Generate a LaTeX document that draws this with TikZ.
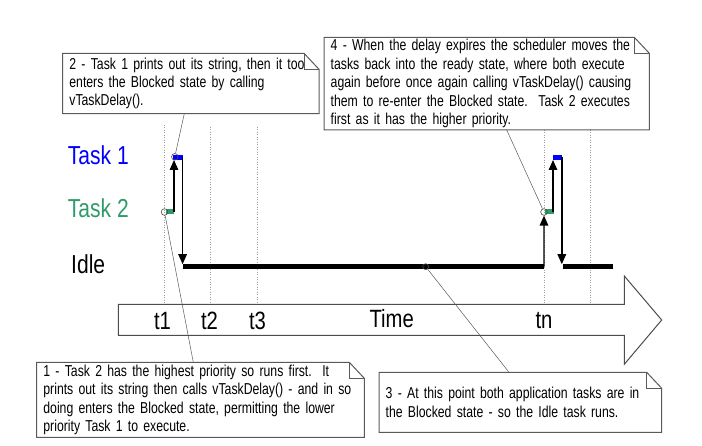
\documentclass[tikz,border=0pt]{standalone}
\usepackage{fontspec}
\setmainfont[FakeStretch=0.81]{Liberation Sans}
\newfontfamily\notefont[FakeStretch=0.775]{Liberation Sans}
\usetikzlibrary{arrows.meta,calc}
\definecolor{tgreen}{RGB}{46,155,105}
\definecolor{tblue}{RGB}{0,0,255}
\definecolor{boxgray}{RGB}{90,90,90}
\newcommand\drawnote[1]{%
  \draw[noteline] (#1.north west) -- ([xshift=-15pt]#1.north east) -- ([yshift=-16pt]#1.north east) -- (#1.south east) -- (#1.south west) -- cycle;
  \draw[noteline] ([xshift=-15pt]#1.north east) |- ([yshift=-16pt]#1.north east);}
\begin{document}
\begin{tikzpicture}[x=1pt,y=-1pt,
  noteline/.style={draw=boxgray,line width=1pt},
  note/.style={inner xsep=6.7pt,inner ysep=0pt,outer sep=0pt,align=left,anchor=north west,
    font=\notefont\fontsize{15.8}{18.4}\selectfont},
  tlabel/.style={font=\fontsize{26}{30}\selectfont,anchor=base west,inner sep=0pt},
  timelabel/.style={font=\fontsize{25}{30}\selectfont,anchor=base,inner sep=0pt},
  guide/.style={draw=gray!75,line width=0.6pt,dash pattern=on 1pt off 1.5pt},
  pointer/.style={draw=gray!70!black,line width=0.5pt},
  circ/.style={circle,draw=gray!60!black,line width=0.6pt,inner sep=0pt,minimum size=6.6pt},
  blk/.style={rectangle,inner sep=0pt,outer sep=0pt,minimum height=5pt},
  idlebar/.style={rectangle,fill=black,inner sep=0pt,outer sep=0pt,minimum height=5pt,anchor=west},
  flow/.style={line width=1.4pt,-{Triangle[length=10pt,width=8.5pt]}}]
\useasboundingbox (0,0) rectangle (702,446);

% time arrow
\draw[draw=gray!60!black,line width=1pt,fill=white] (118.3,304.3) -- (624.3,304.3) -- (624.3,276) -- (661.7,320) -- (624.3,364.3) -- (624.3,335.3) -- (118.3,335.3) -- cycle;

% guide lines
\foreach \gx/\gy in {164.3/125,210.7/127,257.3/127,544/130,590.3/130}
  \draw[guide] (\gx,\gy) -- (\gx,304.3);

% time labels
\node[timelabel] (lt1) at (162.5,330) {t1};
\node[timelabel] (lt2) at (209.5,330) {t2};
\node[timelabel] (lt3) at (257.5,330) {t3};
\node[timelabel] (ltime) at (391.7,328) {Time};
\node[timelabel] (ltn) at (544,329) {tn};

% task labels
\node[tlabel,text=tblue] (task1) at (67.7,164.3) {Task 1};
\node[tlabel,text=tgreen] (task2) at (67.7,217.3) {Task 2};
\node[tlabel] (idle) at (71,273.3) {Idle};

% idle bars
\node[idlebar,minimum width=360.7pt] (i1) at (183.3,266.7) {};
\node[idlebar,minimum width=50pt] (i2) at (563.3,266.7) {};

% first execution
\node[blk,fill=tgreen,minimum width=8pt,anchor=south west] (g1) at (166,214.3) {};
\node[blk,fill=tblue,minimum width=10pt,anchor=south west] (b1) at (173.3,160) {};
\draw[flow] (g1.east) -- (g1.east |- b1.south);
\draw[flow] ([xshift=-0.7pt]b1.east) -- ([xshift=-0.7pt]b1.east |- i1.north);

% second execution
\node[blk,fill=tgreen,minimum width=9pt,anchor=south west] (g2) at (545,214.3) {};
\node[blk,fill=tblue,minimum width=9.6pt,anchor=south west] (b2) at (552.7,160) {};
\node[circ] (c4) at (544,212) {};
\draw[flow] (i1.east) -- (c4);
\draw[flow] ([xshift=-1pt]g2.east) -- ([xshift=-1pt]g2.east |- b2.south);
\draw[flow] ([xshift=-0.5pt]b2.east) -- ([xshift=-0.5pt]b2.east |- i2.north);

% circles
\node[circ] (c1) at (174.8,156.8) {};
\node[circ] (c2) at (164.5,212) {};
\node[circ,minimum size=6pt] (c3) at (425.7,266.7) {};

% notes
\node[note,text width=242.9pt,minimum height=60.4pt] (n2) at (62.7,53.3) {%
\mbox{2 - Task 1 prints out its string, then it too}\\
\mbox{enters the Blocked state by calling}\\
\mbox{vTaskDelay().}};
\drawnote{n2}
\node[note,text width=311.9pt,minimum height=92.7pt] (n4) at (324,37.3) {%
\mbox{4 - When the delay expires the scheduler moves the}\\
\mbox{tasks back into the ready state, where both execute}\\
\mbox{again before once again calling vTaskDelay() causing}\\
\mbox{them to re-enter the Blocked state.\ \ Task 2 executes}\\
\mbox{first as it has the higher priority.}};
\drawnote{n4}
\node[note,text width=314.2pt,minimum height=75pt] (n1) at (36.7,362.3) {%
\mbox{1 - Task 2 has the highest priority so runs first.\ \ It}\\
\mbox{prints out its string then calls vTaskDelay() - and in so}\\
\mbox{doing enters the Blocked state, permitting the lower}\\
\mbox{priority Task 1 to execute.}};
\drawnote{n1}
\node[note,text width=269.3pt,minimum height=60pt] (n3) at (379,372.3) {%
\mbox{3 - At this point both application tasks are in}\\
\mbox{the Blocked state - so the Idle task runs.}};
\drawnote{n3}

% pointers
\coordinate (p2) at ($(n2.south west)+(121.6,0)$);
\coordinate (p4) at ($(n4.south west)+(182.7,0)$);
\coordinate (p1) at ($(n1.north west)+(156.6,0)$);
\coordinate (p3) at ($(n3.north west)+(130,0)$);
\draw[pointer] (p2) -- (c1);
\draw[pointer] (c2) -- (p1);
\draw[pointer] (p4) -- (c4);
\draw[pointer] (c3) -- (p3);
\end{tikzpicture}
\end{document}
